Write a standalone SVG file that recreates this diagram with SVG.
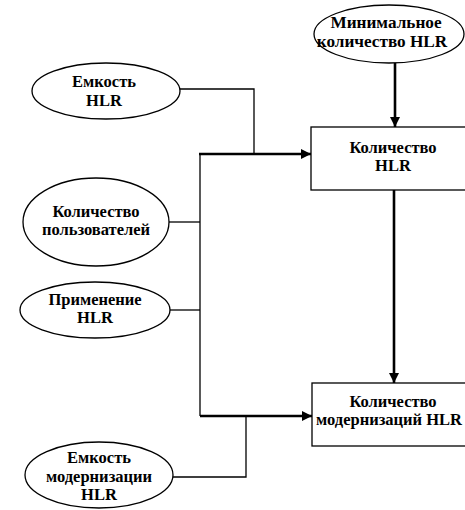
<svg xmlns="http://www.w3.org/2000/svg" width="465" height="510" viewBox="0 0 465 510">
<defs>
<style>
.n{fill:#fff;stroke:#000;stroke-width:1.3}
.t{font-family:'Liberation Serif','Times New Roman',Times,serif;font-weight:700;font-size:16.5px;fill:#000;text-anchor:middle}
.big{font-size:17.2px}
.c{fill:none;stroke:#000;stroke-width:1.3}
.b{fill:none;stroke:#000;stroke-width:2.6}
</style>
<marker id="ah" viewBox="0 0 10 10" refX="10" refY="5" markerWidth="10" markerHeight="10" markerUnits="userSpaceOnUse" orient="auto">
<path d="M0,0 L10,5 L0,10 z" fill="#000"/>
</marker>
</defs>
<rect width="465" height="510" fill="#fff"/>
<g id="connectors">
<path class="b" d="M395,63 V127" marker-end="url(#ah)"/>
<path class="c" d="M180,89 H254 V154"/>
<path class="b" d="M199,154 H311" marker-end="url(#ah)"/>
<path class="c" d="M200,154 V416"/>
<path class="c" d="M169,222 H200"/>
<path class="c" d="M169,310 H200"/>
<path class="b" d="M394,190 V383" marker-end="url(#ah)"/>
<path class="b" d="M200,416 H312" marker-end="url(#ah)"/>
<path class="c" d="M173,477 H246 V416"/>
</g>
<g id="n-min">
<ellipse class="n" cx="389" cy="34" rx="75" ry="29"/>
<text class="t big" x="386" y="28">Минимальное</text>
<text class="t big" x="382" y="47">количество HLR</text>
</g>
<g id="n-emk">
<ellipse class="n" cx="106" cy="91" rx="74" ry="28"/>
<text class="t" x="104" y="87">Емкость</text>
<text class="t" x="104" y="106">HLR</text>
</g>
<g id="n-kolhlr">
<rect class="n" x="311" y="127" width="160" height="63"/>
<text class="t" x="393" y="153">Количество</text>
<text class="t" x="393" y="171">HLR</text>
</g>
<g id="n-users">
<ellipse class="n" cx="96" cy="222" rx="73" ry="44"/>
<text class="t" x="96" y="217">Количество</text>
<text class="t" x="96" y="235">пользователей</text>
</g>
<g id="n-prim">
<ellipse class="n" cx="95" cy="310" rx="75" ry="28"/>
<text class="t" x="95" y="305">Применение</text>
<text class="t" x="95" y="323">HLR</text>
</g>
<g id="n-mod">
<rect class="n" x="312" y="383" width="160" height="63"/>
<text class="t" x="393" y="407">Количество</text>
<text class="t" x="389" y="425">модернизаций HLR</text>
</g>
<g id="n-emkmod">
<ellipse class="n" cx="99" cy="475" rx="74" ry="33"/>
<text class="t" x="99" y="463">Емкость</text>
<text class="t" x="99" y="482">модернизации</text>
<text class="t" x="99" y="500">HLR</text>
</g>
</svg>
